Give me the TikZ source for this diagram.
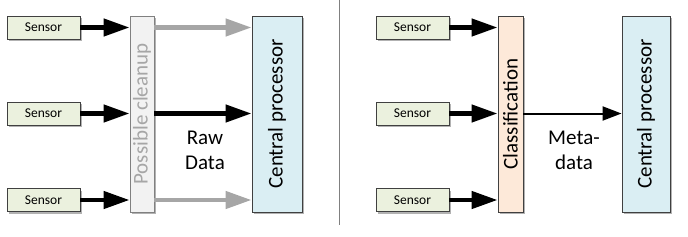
\documentclass[tikz,border=0pt]{standalone}
\usepackage{fontspec}
\setmainfont{Carlito}
\usetikzlibrary{arrows.meta,shadows}
\definecolor{sensorfill}{HTML}{EBF1DE}
\definecolor{cleanfill}{HTML}{F2F2F2}
\definecolor{classfill}{HTML}{FDE9D9}
\definecolor{cpfill}{HTML}{DAEEF3}
\definecolor{bordergray}{HTML}{404040}
\definecolor{arrowgray}{HTML}{A6A6A6}
\definecolor{textgray}{HTML}{A6A6A6}
\tikzset{
  shad/.style={drop shadow={shadow xshift=2pt,shadow yshift=-2pt,fill=black,opacity=0.3}},
  sensorbox/.style={draw=bordergray,line width=0.9pt,fill=sensorfill,shad,minimum width=73pt,minimum height=23pt,inner sep=0pt,font=\fontsize{13.5}{15}\selectfont},
  tallbox/.style={draw=bordergray,line width=0.9pt,shad,minimum height=196pt,inner sep=0pt},
  vtext/.style={rotate=90,font=\fontsize{21}{25}\selectfont},
  bigarrow/.style={line width=4.5pt,-{Triangle[length=26pt,width=17pt]}},
  thinarrow/.style={line width=2pt,-{Triangle[length=19pt,width=14pt]}},
  lbl/.style={align=center,font=\fontsize{21}{25}\selectfont}
}
\begin{document}
\begin{tikzpicture}[x=1pt,y=-1pt]
\useasboundingbox (0,0) rectangle (688,236);
% left half
\node[sensorbox] (s1) at (43.5,27.5) {Sensor};
\node[sensorbox] (s2) at (43.5,113.5) {Sensor};
\node[sensorbox] (s3) at (43.5,200) {Sensor};
\node[tallbox,fill=cleanfill,draw=gray,minimum width=24pt] (cl) at (142,114) {};
\node[vtext,text=textgray] (clt) at (cl.center) {Possible cleanup};
\node[tallbox,fill=cpfill,minimum width=50pt] (cp1) at (277,114) {};
\node[vtext] (cp1t) at (cp1.center) {Central processor};
\draw[bigarrow] (s1.east) -- (s1.east -| cl.west);
\draw[bigarrow] (s2.east) -- (s2.east -| cl.west);
\draw[bigarrow] (s3.east) -- (s3.east -| cl.west);
\draw[bigarrow,arrowgray] (cl.east |- s1.east) -- (cp1.west |- s1.east);
\draw[bigarrow] (cl.east |- s2.east) -- (cp1.west |- s2.east);
\draw[bigarrow,arrowgray] (cl.east |- s3.east) -- (cp1.west |- s3.east);
\node[lbl] (raw) at (205,150) {Raw\\Data};
% divider
\coordinate (dtop) at (339.5,0);
\coordinate (dbot) at (339.5,225);
\draw[gray,line width=1.5pt] (dtop) -- (dbot);
% right half
\node[sensorbox] (r1) at (412.5,27.5) {Sensor};
\node[sensorbox] (r2) at (412.5,113.5) {Sensor};
\node[sensorbox] (r3) at (412.5,200) {Sensor};
\node[tallbox,fill=classfill,minimum width=25pt] (cls) at (510.5,114) {};
\node[vtext] (clst) at (cls.center) {Classification};
\node[tallbox,fill=cpfill,minimum width=48pt] (cp2) at (646,114) {};
\node[vtext] (cp2t) at (cp2.center) {Central processor};
\draw[bigarrow] (r1.east) -- (r1.east -| cls.west);
\draw[bigarrow] (r2.east) -- (r2.east -| cls.west);
\draw[bigarrow] (r3.east) -- (r3.east -| cls.west);
\draw[thinarrow] (cls.east |- r2.east) -- (cp2.west |- r2.east);
\node[lbl] (meta) at (574,150) {Meta-\\data};
\end{tikzpicture}
\end{document}
